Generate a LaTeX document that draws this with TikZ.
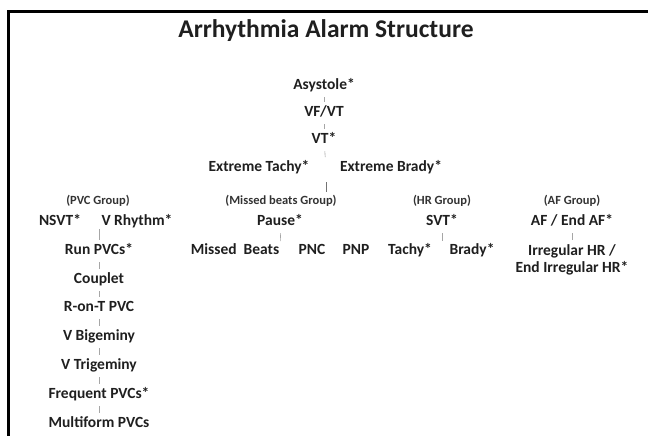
\documentclass[tikz,border=0pt]{standalone}
\usepackage{fontspec}
\setmainfont{Carlito}
\usepackage{tikz}
\usetikzlibrary{positioning}

\tikzset{
  alarm/.style={font=\bfseries\fontsize{15.5}{17}\selectfont, inner sep=0pt,
    text height=10pt, text depth=3pt, text=black!88},
  grouplabel/.style={font=\bfseries\fontsize{12.5}{14}\selectfont, inner sep=0pt,
    text height=8pt, text depth=2.5pt, text=black!80},
  linkline/.style={draw=black!35, line width=0.6pt, shorten <=4.5pt, shorten >=4.5pt}
}

\begin{document}
\begin{tikzpicture}[x=1pt, y=-1pt]
  \useasboundingbox (0,0) rectangle (648,436);
  \draw[line width=3pt] (8.5,440) -- (8.5,12) -- (652,12);

  \node[font=\bfseries\fontsize{25.5}{28}\selectfont, text=black!88] (title) at (326,31) {Arrhythmia Alarm Structure};

  \node[alarm] (asys) at (324,86) {Asystole*};
  \node[alarm] (vfvt) at (324,113) {VF/VT};
  \node[alarm] (vt) at (324,140) {VT*};
  \node[alarm] (xtachy) at (259,168) {Extreme Tachy*};
  \node[alarm] (xbrady) at (391,168) {Extreme Brady*};
  \coordinate (xsplit) at (326,168);
  \coordinate (grprow) at (326,202);

  \node[grouplabel] (pvcgrp) at (98,202) {(PVC Group)};
  \node[grouplabel] (mbgrp) at (281,202) {(Missed beats Group)};
  \node[grouplabel] (hrgrp) at (442,202) {(HR Group)};
  \node[grouplabel] (afgrp) at (572,202) {(AF Group)};

  \node[alarm] (nsvt) at (60,222) {NSVT*};
  \node[alarm] (vrhythm) at (137,222) {V Rhythm*};
  \coordinate (pvcsplit) at (99,222);
  \node[alarm] (runpvc) at (99,251) {Run PVCs*};
  \node[alarm] (couplet) at (99,280) {Couplet};
  \node[alarm] (ront) at (99,308) {R-on-T PVC};
  \node[alarm] (vbig) at (99,337) {V Bigeminy};
  \node[alarm] (vtrig) at (99,366) {V Trigeminy};
  \node[alarm] (freqpvc) at (99,395) {Frequent PVCs*};
  \node[alarm] (multipvc) at (99,424) {Multiform PVCs};

  \node[alarm] (pause) at (280,222) {Pause*};
  \coordinate (pausesplit) at (281,251);
  \node[alarm] (missed) at (235,251) {Missed~ Beats};
  \node[alarm] (pnc) at (312,251) {PNC};
  \node[alarm] (pnp) at (356,251) {PNP};

  \node[alarm] (svt) at (442,222) {SVT*};
  \coordinate (svtsplit) at (442,251);
  \node[alarm] (tachy) at (410,251) {Tachy*};
  \node[alarm] (brady) at (472,251) {Brady*};

  \node[alarm] (afib) at (572,222) {AF / End AF*};
  \node[alarm, align=center, text height=, text depth=] (irrhr) at (572,260) {Irregular HR /\\End Irregular HR*};

  \draw[linkline] (asys) -- (vfvt);
  \draw[linkline] (vfvt) -- (vt);
  \draw[linkline, shorten >=11pt] (vt) -- (xsplit);
  \draw[linkline, draw=black!55, shorten <=14pt, shorten >=10pt] (xsplit) -- (grprow);
  \draw[linkline, shorten <=7pt] (pvcsplit) -- (runpvc);
  \draw[linkline] (runpvc) -- (couplet);
  \draw[linkline] (couplet) -- (ront);
  \draw[linkline] (ront) -- (vbig);
  \draw[linkline] (vbig) -- (vtrig);
  \draw[linkline] (vtrig) -- (freqpvc);
  \draw[linkline] (freqpvc) -- (multipvc);
  \draw[linkline, shorten >=10pt] (pause) -- (pausesplit);
  \draw[linkline, shorten >=10pt] (svt) -- (svtsplit);
  \draw[linkline] (afib) -- (irrhr);
\end{tikzpicture}
\end{document}
